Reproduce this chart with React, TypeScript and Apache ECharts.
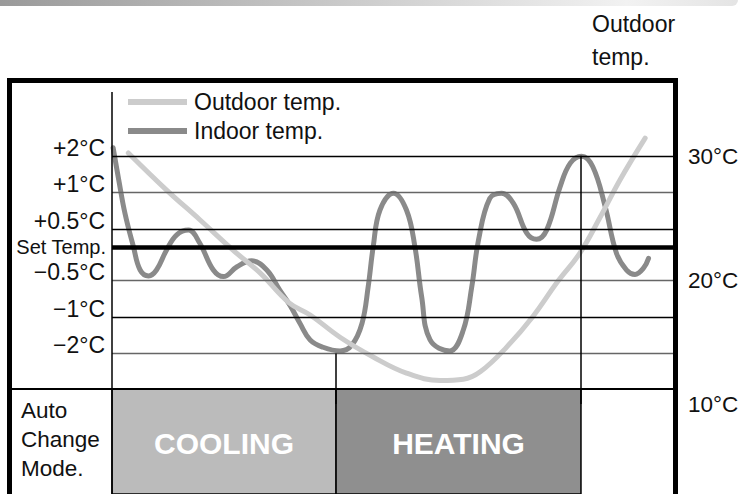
import React, { useEffect, useRef } from "react";
import * as echarts from "echarts";

const FONT = "'Liberation Sans', Arial, Helvetica, sans-serif";

// Time axis (arbitrary units across the operating period)
const timeMin = 0;
const timeMax = 100;

// Indoor temperature rows, relative to the set temperature
const indoorLevelLabels = ["+2°C", "+1°C", "+0.5°C", "Set Temp.", "−0.5°C", "−1°C", "−2°C"];
const indoorLevelValues = [2.5, 1.5, 0.5, 0, -0.9, -1.9, -2.9];
const indoorLevelColors = ["#000", "#666", "#000", "#000", "#666", "#000", "#666"];

// Outdoor temperature scale (right side)
const outdoorMin = 10;
const outdoorMax = 40;
const outdoorStep = 10;

// Indoor temperature curve (row units relative to set temp)
const indoorTime = [
  0.2, 1.2, 2.3, 3.8, 5.0, 6.5, 7.9, 9.7, 11.5, 13.6, 15.6, 18.0, 19.8, 22.2, 24.8, 27.5, 29.8, 31.6,
  33.4, 35.2, 37.5, 40.5, 42.6, 44.4, 45.5, 46.4, 47.6, 50.0, 52.3, 53.8, 55.0, 56.5, 60.0, 62.4, 63.9,
  65.1, 67.1, 69.2, 71.3, 73.7, 75.4, 77.2, 79.6, 81.4, 83.4, 85.4, 87.6, 89.6, 91.4, 92.9, 94.4, 95.3,
];
const indoorTemp = [
  2.72, 1.84, 0.93, 0.02, -0.62, -0.78, -0.62, -0.07, 0.34, 0.47, 0.11, -0.62, -0.8, -0.53, -0.37, -0.62,
  -1.17, -1.58, -2.08, -2.53, -2.73, -2.83, -2.67, -2.08, -1.08, 0.02, 1.02, 1.48, 1.02, 0.02, -1.35,
  -2.53, -2.83, -2.26, -1.08, 0.2, 1.34, 1.48, 1.2, 0.38, 0.22, 0.47, 1.66, 2.3, 2.49, 2.2, 1.11, -0.16,
  -0.62, -0.74, -0.57, -0.3,
];

// Outdoor temperature curve (°C)
const outdoorTime = [2.9, 9.7, 15.6, 21.6, 26.3, 31.4, 35.2, 40.5, 46.4, 52.3, 58.3, 62.4, 65.4, 70.1, 74.8, 79.0, 83.1, 86.7, 90.2, 94.7];
const outdoorTemp = [30.3, 27.3, 24.9, 22.4, 20.6, 18.2, 17.2, 15.4, 13.8, 12.5, 11.9, 12.0, 12.6, 14.6, 17.1, 19.8, 22.2, 25.1, 28.1, 31.5];

// Auto change mode periods
const modeNames = ["COOLING", "HEATING"];
const modeStart = [0, 39.8];
const modeEnd = [39.8, 83.3];
const modeColors = ["#bbbbbb", "#8f8f8f"];

// Mode switch markers: time and indoor row where the switch happens
const switchTime = [39.8, 83.3];
const switchLevel = [-2.9, 2.5];

const INDOOR_AXIS_MIN = -4.28;
const INDOOR_AXIS_MAX = 5.855;

export default function App() {
  const ref = useRef<HTMLDivElement>(null);

  useEffect(() => {
    if (!ref.current) return;
    const chart = echarts.init(ref.current, undefined, { renderer: "svg" });

    const levelLines: any[] = indoorLevelLabels.map((name, i) => {
      const isSet = name === "Set Temp.";
      return {
        name,
        yAxis: indoorLevelValues[i],
        lineStyle: { color: indoorLevelColors[i], width: isSet ? 4.5 : 1.3, type: "solid" },
        label: isSet
          ? {
              show: true,
              position: "start",
              distance: 6,
              formatter: "{b}",
              fontFamily: FONT,
              fontSize: 20,
              color: "#111",
              verticalAlign: "middle",
              padding: [0, 0, 4, 0],
            }
          : {
              show: true,
              position: "start",
              distance: 7,
              formatter: "{b}",
              fontFamily: FONT,
              fontSize: 23,
              lineHeight: 16,
              color: "#111",
              verticalAlign: "bottom",
            },
      };
    });

    const switchLines: any[] = switchTime.map((t, i) => [
      { coord: [t, switchLevel[i]], lineStyle: { color: "#000", width: 1.5, type: "solid" }, label: { show: false } },
      { coord: [t, INDOOR_AXIS_MIN] },
    ]);

    const option: any = {
      animation: false,
      title: {
        text: "Outdoor\ntemp.",
        left: 592,
        top: 7,
        padding: 0,
        textStyle: { fontFamily: FONT, fontSize: 23, fontWeight: "normal", color: "#111", lineHeight: 33 },
      },
      legend: {
        data: ["Outdoor temp.", "Indoor temp."],
        orient: "vertical",
        left: 128,
        top: 90,
        padding: 0,
        icon: "rect",
        itemWidth: 59,
        itemHeight: 6,
        itemGap: 5,
        selectedMode: false,
        textStyle: { fontFamily: FONT, fontSize: 23, lineHeight: 24, color: "#111", padding: [0, 0, 0, 2] },
      },
      grid: [
        { left: 112, right: 67, top: 33, bottom: 90 },
        { left: 112, right: 67, top: 389, bottom: 0 },
      ],
      xAxis: [
        { type: "value", gridIndex: 0, min: timeMin, max: timeMax, show: false },
        { type: "value", gridIndex: 1, min: timeMin, max: timeMax, show: false },
      ],
      yAxis: [
        {
          type: "value",
          gridIndex: 0,
          position: "right",
          min: outdoorMin,
          max: outdoorMax,
          interval: outdoorStep,
          axisLine: { show: false },
          axisTick: { show: false },
          splitLine: { show: false },
          axisLabel: {
            margin: 13,
            fontFamily: FONT,
            fontSize: 22.5,
            color: "#111",
            formatter: (v: number) => (v >= outdoorMax ? "" : v + "°C"),
          },
        },
        { type: "value", gridIndex: 0, position: "left", min: INDOOR_AXIS_MIN, max: INDOOR_AXIS_MAX, show: false },
        { type: "value", gridIndex: 1, min: 0, max: 1, show: false },
      ],
      graphic: [
        {
          type: "rect",
          silent: true,
          shape: { x: 0, y: 0, width: 738, height: 6, r: [0, 0, 6, 0] },
          style: {
            fill: new echarts.graphic.LinearGradient(0, 0, 1, 0, [
              { offset: 0, color: "#9a9a9a" },
              { offset: 0.85, color: "#f2f2f2" },
              { offset: 1, color: "#e4e4e4" },
            ]),
          },
        },
        // table frame
        { type: "rect", silent: true, z: 10, shape: { x: 7, y: 78, width: 5, height: 420 }, style: { fill: "#000" } },
        { type: "rect", silent: true, z: 10, shape: { x: 7, y: 78, width: 671, height: 5 }, style: { fill: "#000" } },
        { type: "rect", silent: true, z: 10, shape: { x: 673, y: 78, width: 5, height: 420 }, style: { fill: "#000" } },
        { type: "rect", silent: true, z: 10, shape: { x: 12, y: 388, width: 661, height: 2 }, style: { fill: "#000" } },
        { type: "line", silent: true, z: 10, shape: { x1: 112, y1: 92, x2: 112, y2: 494 }, style: { stroke: "#000", lineWidth: 1.5 } },
        {
          type: "text",
          silent: true,
          z: 10,
          x: 21,
          y: 396,
          style: {
            text: "Auto\nChange\nMode.",
            fontFamily: FONT,
            fontSize: 22.5,
            lineHeight: 29,
            fill: "#111",
            verticalAlign: "top",
          },
        },
      ],
      series: [
        {
          name: "Indoor temp.",
          type: "line",
          xAxisIndex: 0,
          yAxisIndex: 1,
          z: 2,
          smooth: 0.4,
          symbol: "none",
          data: indoorTime.map((t, i) => [t, indoorTemp[i]]),
          itemStyle: { color: "#8a8a8a" },
          lineStyle: { color: "#8a8a8a", width: 5, cap: "round", join: "round" },
        },
        {
          name: "Outdoor temp.",
          type: "line",
          xAxisIndex: 0,
          yAxisIndex: 0,
          z: 3,
          smooth: 0.4,
          symbol: "none",
          data: outdoorTime.map((t, i) => [t, outdoorTemp[i]]),
          itemStyle: { color: "#cccccc" },
          lineStyle: { color: "#cccccc", width: 5, cap: "round", join: "round" },
        },
        {
          type: "line",
          xAxisIndex: 0,
          yAxisIndex: 1,
          z: 4,
          data: [],
          markLine: {
            silent: true,
            symbol: "none",
            animation: false,
            data: [...levelLines, ...switchLines],
          },
        },
        {
          type: "line",
          xAxisIndex: 1,
          yAxisIndex: 2,
          data: [],
          markArea: {
            silent: true,
            itemStyle: { borderColor: "#000", borderWidth: 1.5 },
            label: {
              show: true,
              position: "inside",
              color: "#fff",
              fontWeight: "bold",
              fontFamily: FONT,
              fontSize: 30,
              offset: [0, 2],
            },
            data: modeNames.map((name, i) => [
              { name, xAxis: modeStart[i], itemStyle: { color: modeColors[i] } },
              { xAxis: modeEnd[i] },
            ]),
          },
        },
      ],
    };

    chart.setOption(option);
    return () => chart.dispose();
  }, []);

  return <div ref={ref} style={{ position: "absolute", left: 0, top: 0, width: 742, height: 494, background: "#fff" }} />;
}
